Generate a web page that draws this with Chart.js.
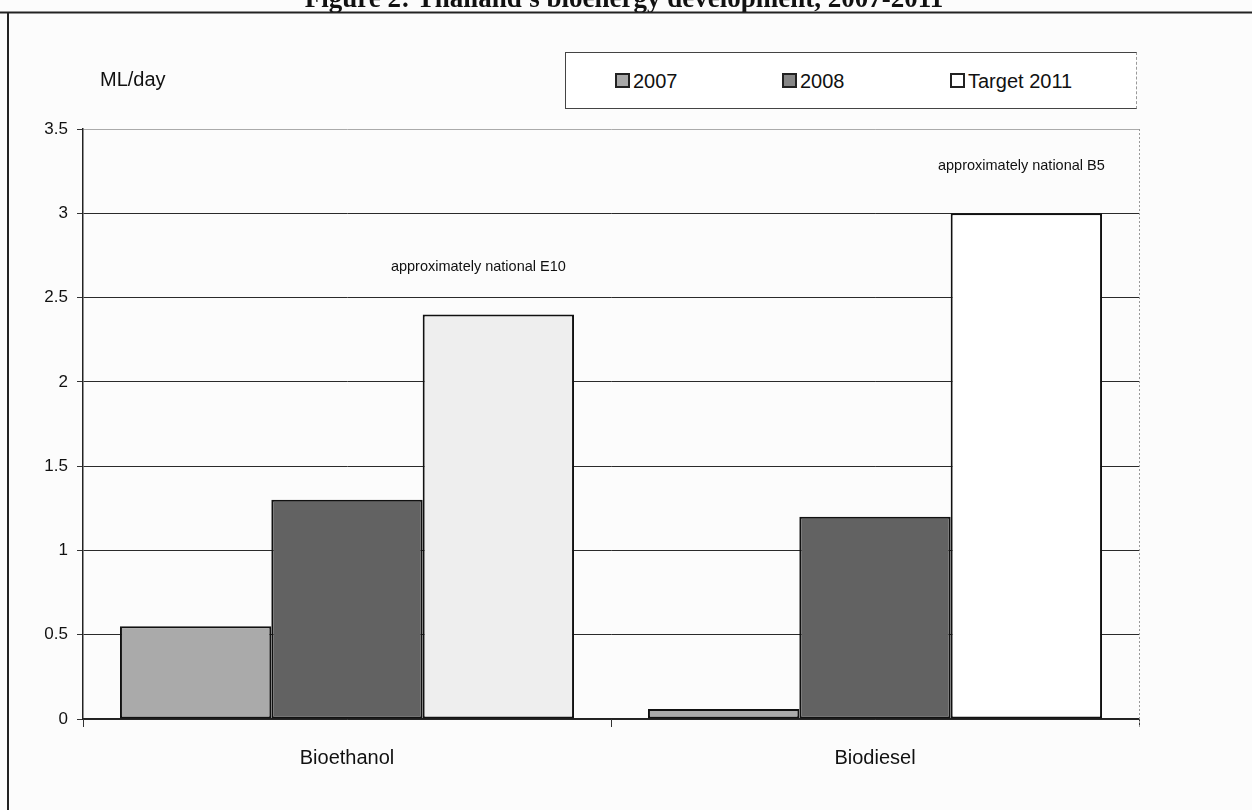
<!DOCTYPE html>
<html>
<head>
<meta charset="utf-8">
<script src="https://cdn.jsdelivr.net/npm/chart.js@4/dist/chart.umd.min.js"></script>
<style>
  html, body { margin: 0; padding: 0; background: #fcfcfc; }
  #wrap { position: relative; width: 1252px; height: 810px; overflow: hidden; }
  #grafico { position: absolute; left: 0; top: 0; }
  #legenda {
    position: absolute; left: 565px; top: 52px; width: 570px; height: 55px;
    border: 1px solid #444; border-right: 1px dashed #999; background: #fff;
    font-family: "Liberation Sans", Arial, sans-serif; font-size: 20px; color: #111;
  }
  #legenda .item { position: absolute; top: 17px; line-height: 22px; white-space: nowrap; }
  #legenda .caixa {
    display: inline-block; width: 11px; height: 11px; border: 2px solid #222;
    margin-right: 3px; vertical-align: 0px;
  }
</style>
</head>
<body>
<div id="wrap">
  <canvas id="grafico" width="1252" height="810"></canvas>
  <div id="legenda"></div>
</div>
<script>
// dados do gráfico (ML/dia)
const categorias = ["Bioethanol", "Biodiesel"];
const series = ["2007", "2008", "Target 2011"];
const valores2007 = [0.55, 0.06];
const valores2008 = [1.3, 1.2];
const meta2011 = [2.4, 3.0];
const notas = ["approximately national E10", "approximately national B5"];
const yTicks = [0, 0.5, 1, 1.5, 2, 2.5, 3, 3.5];

const titulo = "Figure 2: Thailand's bioenergy development, 2007-2011";
const unidade = "ML/day";

const cores = ['#aaaaaa', '#626262', ['#eeeeee', '#ffffff']];
const coresLegenda = ['#a8a8a8', '#868686', '#ffffff'];

// legenda em HTML
const legenda = document.getElementById("legenda");
const posLegenda = [49, 216, 384];
series.forEach((s, i) => {
  const item = document.createElement("span");
  item.className = "item";
  item.style.left = posLegenda[i] + "px";
  item.innerHTML = `<span class="caixa" style="background:${coresLegenda[i]}"></span>${s}`;
  legenda.appendChild(item);
});

// título, moldura, unidade e notas sobre as barras
const extras = {
  id: 'extras',
  beforeDraw(chart) {
    const ctx = chart.ctx;
    ctx.save();
    ctx.fillStyle = '#fcfcfc';
    ctx.fillRect(0, 0, chart.width, chart.height);
    ctx.restore();
  },
  afterDraw(chart) {
    const ctx = chart.ctx;
    const area = chart.chartArea;
    ctx.save();

    // título cortado no topo
    ctx.font = 'bold 27px "Liberation Serif", "Times New Roman", serif';
    ctx.fillStyle = '#111';
    ctx.textAlign = 'center';
    ctx.textBaseline = 'alphabetic';
    ctx.fillText(titulo, 624, 7);

    // moldura externa
    ctx.strokeStyle = '#222';
    ctx.lineWidth = 2;
    ctx.beginPath();
    ctx.moveTo(0, 12.5);
    ctx.lineTo(chart.width, 12.5);
    ctx.moveTo(8, 12);
    ctx.lineTo(8, chart.height);
    ctx.stroke();

    // borda direita pontilhada da área do gráfico
    ctx.strokeStyle = '#999';
    ctx.lineWidth = 1;
    ctx.setLineDash([2, 2]);
    ctx.beginPath();
    ctx.moveTo(area.right + 0.5, area.top);
    ctx.lineTo(area.right + 0.5, area.bottom + 8);
    ctx.stroke();
    ctx.setLineDash([]);

    // unidade
    ctx.font = '20px "Liberation Sans", Arial, sans-serif';
    ctx.fillStyle = '#111';
    ctx.textAlign = 'left';
    ctx.textBaseline = 'middle';
    ctx.fillText(unidade, 100, 80);

    // notas acima das barras da meta
    const meta = chart.getDatasetMeta(2);
    const desvio = [-20, -5];
    ctx.font = '14.5px "Liberation Sans", Arial, sans-serif';
    ctx.textAlign = 'center';
    notas.forEach((txt, i) => {
      const bar = meta.data[i];
      ctx.fillText(txt, bar.x + desvio[i], bar.y - 47);
    });
    ctx.restore();
  }
};

const ctx = document.getElementById("grafico").getContext("2d");
const chart = new Chart(ctx, {
  type: 'bar',
  data: {
    labels: categorias,
    datasets: [
      { label: series[0], data: valores2007, backgroundColor: cores[0] },
      { label: series[1], data: valores2008, backgroundColor: cores[1] },
      { label: series[2], data: meta2011, backgroundColor: cores[2] }
    ]
  },
  options: {
    responsive: false,
    animation: false,
    layout: { padding: { top: 129, right: 113, bottom: 0, left: 0 } },
    datasets: {
      bar: {
        categoryPercentage: 0.86,
        barPercentage: 1.0,
        borderColor: '#111',
        borderWidth: 2,
        borderSkipped: false
      }
    },
    plugins: {
      legend: { display: false },
      tooltip: { enabled: false }
    },
    scales: {
      x: {
        grid: {
          offset: true,
          drawOnChartArea: false,
          drawTicks: true,
          tickLength: 8,
          tickColor: '#333'
        },
        border: { display: true, color: '#222', width: 1.5 },
        ticks: {
          padding: 19,
          color: '#111',
          font: { family: '"Liberation Sans", Arial, sans-serif', size: 20 }
        },
        afterFit(scale) { scale.height = 91; }
      },
      y: {
        min: 0,
        max: 3.5,
        afterBuildTicks(scale) { scale.ticks = yTicks.map(v => ({ value: v })); },
        grid: {
          color: (c) => c.tick && c.tick.value === 3.5 ? '#aaa' : '#2a2a2a',
          lineWidth: 1,
          drawTicks: true,
          tickLength: 6,
          tickColor: '#333'
        },
        border: { display: true, color: '#222', width: 1.5 },
        ticks: {
          padding: 9,
          color: '#111',
          font: { family: '"Liberation Sans", Arial, sans-serif', size: 17 },
          callback: (v) => String(v)
        },
        afterFit(scale) { scale.width = 83; }
      }
    }
  },
  plugins: [extras]
});
</script>
</body>
</html>
